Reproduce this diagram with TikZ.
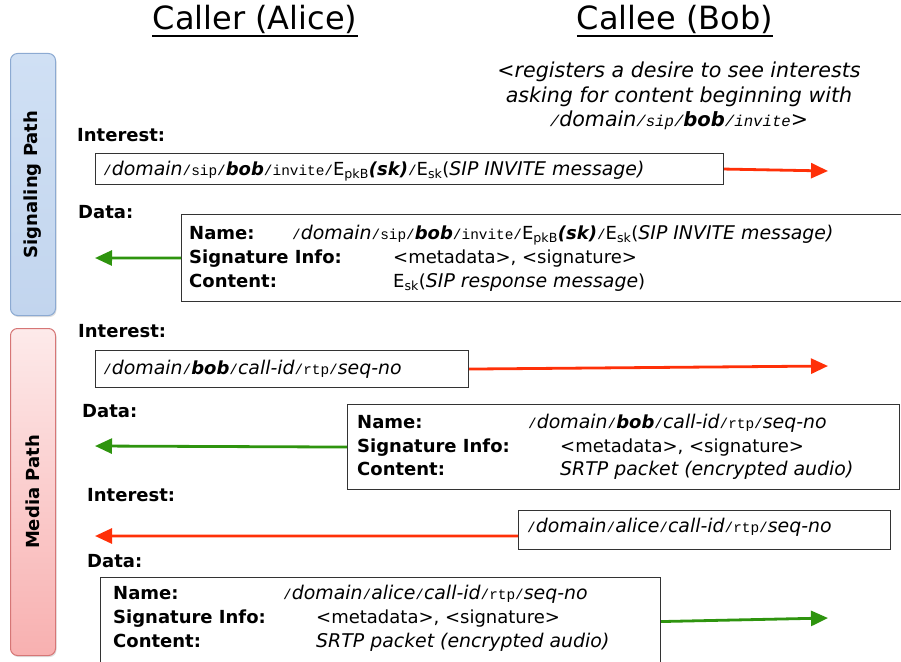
\documentclass[tikz,border=0pt]{standalone}
\usepackage{fontspec}
\setmainfont{DejaVu Sans}[ItalicFeatures={Scale=1.05}]
\setmonofont[Scale=0.8]{Liberation Mono}
\usetikzlibrary{arrows.meta,shadows}
\definecolor{intred}{RGB}{255,48,8}
\definecolor{datgreen}{RGB}{46,148,14}
\definecolor{sigborder}{RGB}{140,170,210}
\definecolor{sigtop}{RGB}{208,224,244}
\definecolor{sigbot}{RGB}{194,213,238}
\definecolor{medborder}{RGB}{214,118,118}
\definecolor{medtop}{RGB}{253,234,234}
\definecolor{medbot}{RGB}{248,176,176}
\newcommand{\nsep}{\texttt{/}}
\begin{document}
\begin{tikzpicture}[x=1pt,y=-1pt,
	every node/.style={inner sep=0pt},
	txt/.style={anchor=base west,font=\fontsize{18}{22}\selectfont},
	lab/.style={anchor=base west,font=\fontsize{18}{22}\selectfont\bfseries},
	head/.style={anchor=base,font=\fontsize{32}{36}\selectfont},
	pbox/.style={draw=black!80,line width=1.1pt,anchor=north west},
	intarrow/.style={draw=intred,line width=2.8pt,-{Triangle[length=17pt,width=15pt,fill=intred]}},
	datarrow/.style={draw=datgreen,line width=2.8pt,-{Triangle[length=17pt,width=15pt,fill=datgreen]}},
	pathbox/.style={rounded corners=7pt,line width=1pt,anchor=north west,minimum width=45pt,
		drop shadow={opacity=0.25,shadow xshift=1pt,shadow yshift=-1.5pt}}]
	\useasboundingbox (0,0) rectangle (901,661);
	% headings
	\node[head] (caller) at (255,30) {Caller (Alice)};
	\node[head] (callee) at (675,30) {Callee (Bob)};
	\draw[line width=1.8pt] ([yshift=-6pt]caller.base west) -- ([yshift=-6pt]caller.base east);
	\draw[line width=1.8pt] ([yshift=-6pt]callee.base west) -- ([yshift=-6pt]callee.base east);
	\node[anchor=north,align=center,font=\fontsize{19.6}{24.5}\selectfont\itshape] (reg) at (679,62)
		{<registers a desire to see interests\\ asking for content beginning with\\
		\nsep\textit{domain}\nsep\texttt{sip}\nsep\textbf{\textit{bob}}\nsep\texttt{invite}>};
	% path bars
	\node[pathbox,draw=sigborder,top color=sigtop,bottom color=sigbot,minimum height=262pt] (sig) at (10,53) {};
	\node[rotate=90,font=\fontsize{18}{22}\selectfont\bfseries] (siglab) at (sig.center) {Signaling Path};
	\node[pathbox,draw=medborder,top color=medtop,bottom color=medbot,minimum height=327pt] (med) at (10,328) {};
	\node[rotate=90,font=\fontsize{18}{22}\selectfont\bfseries] (medlab) at (med.center) {Media Path};
	% signaling interest
	\node[lab] (int1) at (77,141) {Interest:};
	\node[pbox,minimum width=628pt,minimum height=31pt] (b1) at (95,153) {};
	\node[txt] (b1t) at (103,175) {\nsep\textit{domain}\nsep\texttt{sip}\nsep\textbf{\textit{bob}}\nsep\texttt{invite}\nsep E\textsubscript{pkB}\textbf{\textit{(sk)}}\nsep E\textsubscript{sk}(\textit{SIP INVITE message)}};
	\coordinate (i1end) at (828,171);
	\draw[intarrow] (b1.east) -- (i1end);
	% signaling data
	\node[lab] (dat1) at (78,218) {Data:};
	\node[pbox,minimum width=722pt,minimum height=87pt] (d1) at (181,214) {};
	\node[lab] (d1n) at (189,239) {Name:};
	\node[txt] (d1nv) at (292,239) {\nsep\textit{domain}\nsep\texttt{sip}\nsep\textbf{\textit{bob}}\nsep\texttt{invite}\nsep E\textsubscript{pkB}\textbf{\textit{(sk)}}\nsep E\textsubscript{sk}(\textit{SIP INVITE message)}};
	\node[lab] (d1s) at (189,263) {Signature Info:};
	\node[txt] (d1sv) at (393,263) {<metadata>, <signature>};
	\node[lab] (d1c) at (189,287) {Content:};
	\node[txt] (d1cv) at (393,287) {E\textsubscript{sk}(\textit{SIP response message})};
	\coordinate (d1end) at (95,258);
	\draw[datarrow] (d1.west) -- (d1end);
	% media interest from alice
	\node[lab] (int2) at (78,337) {Interest:};
	\node[pbox,minimum width=373pt,minimum height=37pt] (b2) at (95,350) {};
	\node[txt] (b2t) at (103,374) {\nsep\textit{domain}\nsep\textbf{\textit{bob}}\nsep\textit{call-id}\nsep\texttt{rtp}\nsep\textit{seq-no}};
	\coordinate (i2end) at (828,366);
	\draw[intarrow] (b2.east) -- (i2end);
	% media data from bob
	\node[lab] (dat2) at (82,417) {Data:};
	\node[pbox,minimum width=552pt,minimum height=85pt] (d2) at (347,404) {};
	\node[lab] (d2n) at (357,428) {Name:};
	\node[txt] (d2nv) at (528,428) {\nsep\textit{domain}\nsep\textbf{\textit{bob}}\nsep\textit{call-id}\nsep\texttt{rtp}\nsep\textit{seq-no}};
	\node[lab] (d2s) at (357,452) {Signature Info:};
	\node[txt] (d2sv) at (560,452) {<metadata>, <signature>};
	\node[lab] (d2c) at (357,475) {Content:};
	\node[txt] (d2cv) at (560,475) {\textit{SRTP packet (encrypted audio)}};
	\coordinate (d2end) at (95,446);
	\draw[datarrow] (d2.west) -- (d2end);
	% media interest from bob
	\node[lab] (int3) at (87,501) {Interest:};
	\node[pbox,minimum width=372pt,minimum height=39pt] (b3) at (518,510) {};
	\node[txt] (b3t) at (527,532) {\nsep\textit{domain}\nsep\textit{alice}\nsep\textit{call-id}\nsep\texttt{rtp}\nsep\textit{seq-no}};
	\coordinate (i3end) at (95,536);
	\draw[intarrow] ([yshift=-6pt]b3.west) -- (i3end);
	% media data from alice
	\node[lab] (dat3) at (87,567) {Data:};
	\node[pbox,minimum width=560pt,minimum height=88pt] (d3) at (100,577) {};
	\node[lab] (d3n) at (113,599) {Name:};
	\node[txt] (d3nv) at (283,599) {\nsep\textit{domain}\nsep\textit{alice}\nsep\textit{call-id}\nsep\texttt{rtp}\nsep\textit{seq-no}};
	\node[lab] (d3s) at (113,623) {Signature Info:};
	\node[txt] (d3sv) at (316,623) {<metadata>, <signature>};
	\node[lab] (d3c) at (113,647) {Content:};
	\node[txt] (d3cv) at (316,647) {\textit{SRTP packet (encrypted audio)}};
	\coordinate (d3end) at (828,618);
	\draw[datarrow] (d3.east) -- (d3end);
\end{tikzpicture}
\end{document}
